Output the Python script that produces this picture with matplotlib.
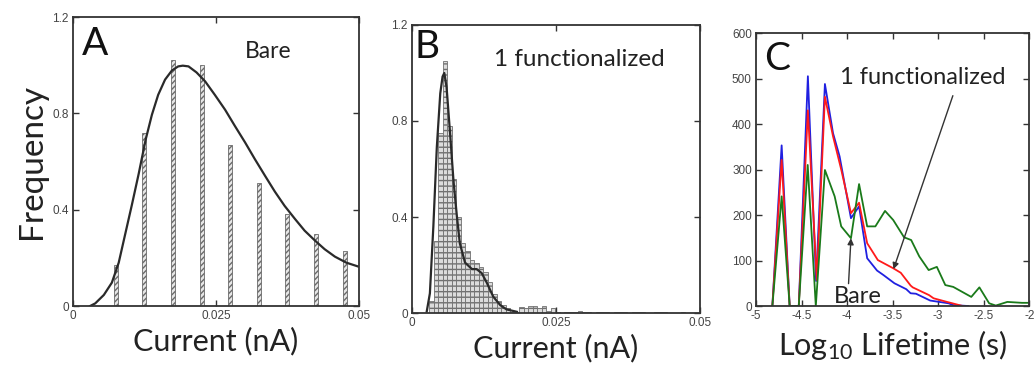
import numpy as np
import matplotlib
matplotlib.use("Agg")
import matplotlib.pyplot as plt

plt.rcParams["mathtext.default"] = "regular"

# Panel A: bare nanopore current histogram + fit
a_centers = [0.0075, 0.0125, 0.0175, 0.0225, 0.0275, 0.0325, 0.0375, 0.0425, 0.0475]
a_heights = [0.17, 0.72, 1.02, 1.00, 0.67, 0.51, 0.38, 0.30, 0.23]
a_fit_x = [0.0030, 0.0039, 0.0054, 0.0068, 0.0080, 0.0091, 0.0103, 0.0115, 0.0127,
           0.0138, 0.0149, 0.0161, 0.0173, 0.0184, 0.0192, 0.0202, 0.0216, 0.0231,
           0.0248, 0.0266, 0.0283, 0.0301, 0.0318, 0.0336, 0.0353, 0.0370, 0.0388,
           0.0405, 0.0423, 0.0440, 0.0458, 0.0478, 0.0500]
a_fit_y = [0.0, 0.011, 0.046, 0.097, 0.18, 0.295, 0.42, 0.55, 0.69,
           0.794, 0.877, 0.94, 0.978, 0.995, 0.998, 0.995, 0.97, 0.933,
           0.877, 0.815, 0.748, 0.679, 0.61, 0.54, 0.475, 0.416, 0.362,
           0.313, 0.272, 0.236, 0.205, 0.18, 0.163]

# Panel B: functionalized current histogram + fit
b_bin_start = 0.0030
b_bin_width = 0.00078
b_heights = [0.05, 0.30, 0.75, 1.05, 0.78, 0.56, 0.40, 0.29, 0.26, 0.22,
             0.21, 0.19, 0.17, 0.13, 0.08, 0.05, 0.035, 0.02, 0.005, 0.005,
             0.025, 0.02, 0.03, 0.03, 0.02, 0.03, 0.01, 0.02, 0.005, 0.0,
             0.005, 0.005, 0.005, 0.01, 0.005, 0.005, 0.0, 0.005, 0.005, 0.005,
             0.0, 0.005, 0.005, 0.005, 0.0, 0.005, 0.005, 0.005, 0.0, 0.0,
             0.005, 0.005, 0.005, 0.0, 0.0, 0.0, 0.005, 0.0, 0.0, 0.0]
b_fit_x = [0.00255, 0.0031, 0.0037, 0.0043, 0.0049, 0.0053, 0.0056, 0.0060, 0.0066,
           0.0072, 0.0078, 0.0083, 0.0092, 0.0104, 0.0112, 0.0121, 0.0130, 0.0141,
           0.0153, 0.0164, 0.0182]
b_fit_y = [0.006, 0.082, 0.36, 0.69, 0.915, 0.985, 1.0, 0.94, 0.75,
           0.55, 0.40, 0.29, 0.21, 0.183, 0.183, 0.166, 0.125, 0.068,
           0.033, 0.015, 0.005]

# Panel C: lifetime distributions
blue_x = [-4.82, -4.718, -4.63, -4.53, -4.43, -4.34, -4.243, -4.154, -4.082, -3.957,
          -3.868, -3.779, -3.671, -3.6, -3.48, -3.35, -3.302, -3.243, -3.087, -2.886,
          -2.834, -2.67]
blue_y = [0, 353, 0, 0, 505, 55, 488, 380, 329, 193,
          219, 105, 78, 68, 50, 37, 28, 27, 12, 6,
          2, 0]
red_x = [-4.82, -4.718, -4.63, -4.53, -4.43, -4.332, -4.243, -4.154, -4.064, -3.957,
         -3.868, -3.779, -3.662, -3.493, -3.41, -3.302, -3.279, -3.1, -3.05, -2.921,
         -2.73]
red_y = [0, 321, 0, 0, 430, 57, 460, 373, 300, 204,
         227, 138, 101, 83, 73, 45, 41, 24, 17, 10,
         0]
green_x = [-4.82, -4.718, -4.63, -4.53, -4.432, -4.343, -4.243, -4.136, -4.064, -3.957,
           -3.868, -3.779, -3.689, -3.583, -3.493, -3.374, -3.296, -3.207, -3.104, -3.014,
           -2.921, -2.834, -2.636, -2.547, -2.44, -2.367, -2.24, -2.08, -2.0]
green_y = [0, 241, 0, 0, 310, 0, 299, 241, 175, 149,
           268, 175, 175, 209, 189, 151, 145, 109, 79, 86,
           46, 42, 20, 41, 6, 1, 9, 7, 7]

TEXT_FONT = "Lato"
TICK_FONT = "Liberation Sans"
FRAME = "#333333"
TICKC = "#444444"


def style_axes(ax):
    for s in ax.spines.values():
        s.set_color(FRAME)
        s.set_linewidth(1.3)
    ax.tick_params(direction="in", top=True, right=True, length=4, width=1.0,
                   colors=FRAME, labelcolor=TICKC, labelsize=8.5, pad=3)
    for lab in ax.get_xticklabels() + ax.get_yticklabels():
        lab.set_fontfamily(TICK_FONT)


fig = plt.figure(figsize=(10.35, 3.66), dpi=100)
ax_a = fig.add_axes([0.0705, 0.1639, 0.2763, 0.7896])
ax_b = fig.add_axes([0.3981, 0.1448, 0.2783, 0.7869])
ax_c = fig.add_axes([0.7304, 0.1639, 0.2640, 0.7459])

# A
ax_a.bar(a_centers, a_heights, width=0.0007, color="#e6e6e6", edgecolor="#6a6a6a",
         linewidth=0.6, hatch="//////")
ax_a.plot(a_fit_x, a_fit_y, color="#2a2a2a", linewidth=1.6)
ax_a.set_xlim(0, 0.05)
ax_a.set_ylim(0, 1.2)
ax_a.set_xticks([0, 0.025, 0.05])
ax_a.set_xticklabels(["0", "0.025", "0.05"])
ax_a.set_yticks([0, 0.4, 0.8, 1.2])
ax_a.set_yticklabels(["0", "0.4", "0.8", "1.2"])
style_axes(ax_a)
ax_a.set_xlabel("Current (nA)", fontfamily=TEXT_FONT, fontsize=22, color="#222222", labelpad=3)
ax_a.set_ylabel("Frequency", fontfamily=TEXT_FONT, fontsize=24, color="#222222", labelpad=4)
ax_a.text(0.03, 0.97, "A", transform=ax_a.transAxes, fontfamily=TEXT_FONT, fontsize=28,
          va="top", ha="left", color="#111111")
ax_a.text(0.60, 0.88, "Bare", transform=ax_a.transAxes, fontfamily=TEXT_FONT, fontsize=16.5,
          va="center", ha="left", color="#222222")

# B
b_edges = b_bin_start + b_bin_width * np.arange(len(b_heights))
ax_b.bar(b_edges, b_heights, width=b_bin_width, align="edge", color="#dcdcdc",
         edgecolor="#707070", linewidth=0.6, hatch="---")
ax_b.plot(b_fit_x, b_fit_y, color="#2a2a2a", linewidth=1.6)
ax_b.set_xlim(0, 0.05)
ax_b.set_ylim(0, 1.2)
ax_b.set_xticks([0, 0.025, 0.05])
ax_b.set_xticklabels(["0", "0.025", "0.05"])
ax_b.set_yticks([0, 0.4, 0.8, 1.2])
ax_b.set_yticklabels(["0", "0.4", "0.8", "1.2"])
style_axes(ax_b)
ax_b.set_xlabel("Current (nA)", fontfamily=TEXT_FONT, fontsize=22, color="#222222", labelpad=3)
ax_b.text(0.01, 0.985, "B", transform=ax_b.transAxes, fontfamily=TEXT_FONT, fontsize=28,
          va="top", ha="left", color="#111111")
ax_b.text(0.285, 0.88, "1 functionalized", transform=ax_b.transAxes, fontfamily=TEXT_FONT,
          fontsize=17.5, va="center", ha="left", color="#222222")

# C
ax_c.plot(blue_x, blue_y, color="#2020e0", linewidth=1.3)
ax_c.plot(red_x, red_y, color="#ff1a1a", linewidth=1.3)
ax_c.plot(green_x, green_y, color="#1a7a1a", linewidth=1.3)
ax_c.set_xlim(-5, -2)
ax_c.set_ylim(0, 600)
ax_c.set_xticks([-5, -4.5, -4, -3.5, -3, -2.5, -2])
ax_c.set_xticklabels(["-5", "-4.5", "-4", "-3.5", "-3", "-2.5", "-2"])
ax_c.set_yticks([0, 100, 200, 300, 400, 500, 600])
style_axes(ax_c)
ax_c.set_xlabel("Log$_{10}$ Lifetime (s)", fontfamily=TEXT_FONT, fontsize=22,
                color="#222222", labelpad=4)
ax_c.text(0.03, 0.97, "C", transform=ax_c.transAxes, fontfamily=TEXT_FONT, fontsize=28,
          va="top", ha="left", color="#111111")
ax_c.annotate("1 functionalized", xy=(-3.49, 81), xytext=(-4.08, 503),
              fontfamily=TEXT_FONT, fontsize=17, color="#222222", ha="left", va="center",
              arrowprops=dict(arrowstyle="-|>", color="#333333", lw=1.0,
                              shrinkA=4, shrinkB=0, mutation_scale=9,
                              relpos=(0.7, 0.0)))
ax_c.annotate("Bare", xy=(-3.957, 149), xytext=(-3.88, 20),
              fontfamily=TEXT_FONT, fontsize=17, color="#222222", ha="center", va="center",
              arrowprops=dict(arrowstyle="-|>", color="#333333", lw=1.0,
                              shrinkA=0, shrinkB=0, mutation_scale=9,
                              relpos=(0.3, 1.0)))

fig.savefig("out.png", dpi=100)
